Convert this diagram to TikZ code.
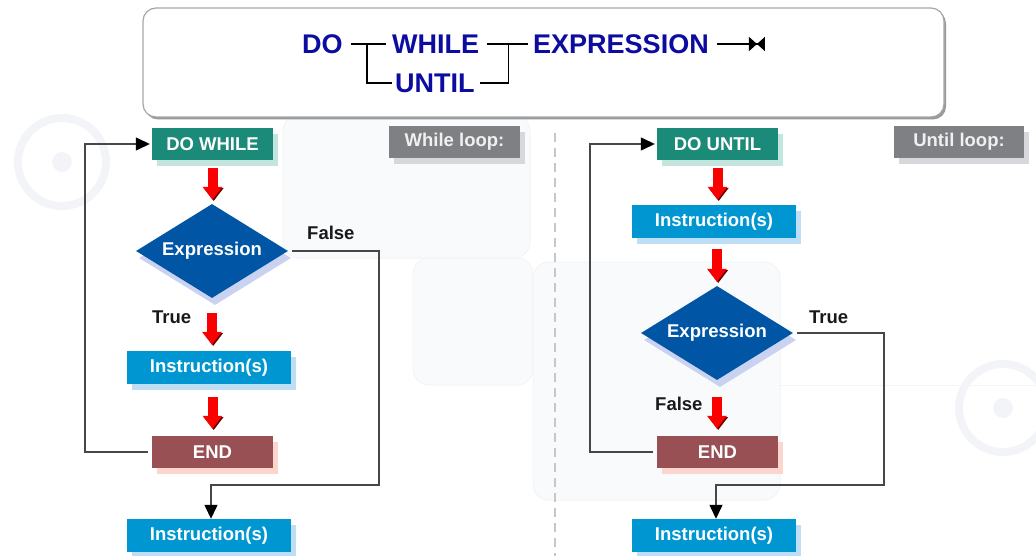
\documentclass[tikz,border=0pt]{standalone}
\usepackage{fontspec}
\setmainfont{Liberation Sans}
\usetikzlibrary{arrows.meta,shapes.geometric,shadows,calc}

\definecolor{kwblue}{RGB}{12,12,160}
\definecolor{startcol}{RGB}{27,138,120}
\definecolor{startsh}{RGB}{196,228,222}
\definecolor{instcol}{RGB}{0,150,210}
\definecolor{instsh}{RGB}{190,222,246}
\definecolor{endcol}{RGB}{153,80,84}
\definecolor{endsh}{RGB}{252,214,204}
\definecolor{diacol}{RGB}{0,85,164}
\definecolor{diash}{RGB}{201,210,240}
\definecolor{tagcol}{RGB}{126,128,131}
\definecolor{tagsh}{RGB}{214,216,219}
\definecolor{arrowred}{RGB}{250,0,0}
\definecolor{faint}{RGB}{249,250,252}
\definecolor{faintline}{RGB}{242,244,247}

\begin{document}
\begin{tikzpicture}[x=1pt,y=-1pt,
  boxtxt/.style={text=white, inner sep=0pt, font=\bfseries\fontsize{18.5}{20}\selectfont},
  shadowed/.style={drop shadow={shadow xshift=5pt,shadow yshift=-6pt,fill=#1,opacity=1}},
  startbox/.style={boxtxt, rectangle, fill=startcol, minimum width=121pt, minimum height=32pt, shadowed=startsh},
  instbox/.style={boxtxt, rectangle, fill=instcol, minimum width=164pt, minimum height=33pt, shadowed=instsh},
  endbox/.style={boxtxt, rectangle, fill=endcol, minimum width=121pt, minimum height=32pt, shadowed=endsh},
  tagbox/.style={boxtxt, rectangle, fill=tagcol, text=white!94!black, minimum width=131pt, minimum height=32pt, shadowed=tagsh},
  testbox/.style={boxtxt, diamond, fill=diacol, aspect=1.6, minimum width=152pt, minimum height=94pt,
    drop shadow={shadow xshift=3pt,shadow yshift=-7pt,fill=diash,opacity=1}},
  kw/.style={anchor=base west, inner sep=0pt, text=kwblue, font=\bfseries\fontsize{27}{30}\selectfont},
  syn/.style={draw=black, line width=1.6pt},
  lbl/.style={anchor=base west, inner sep=0pt, text=black!90, font=\bfseries\fontsize{18.5}{20}\selectfont},
  flow/.style={draw=black!72, line width=1.3pt, -{Triangle[width=13pt,length=14pt,color=black]}},
  redarrow/.style={draw=arrowred, line width=10pt, -{Triangle[width=19pt,length=13pt]},
    preaction={draw=red!40!black, transform canvas={xshift=1.2pt,yshift=-1.2pt}}}
]
\useasboundingbox (0,0) rectangle (1036,556);

% faint background pattern
\begin{scope}[draw=faintline, line width=1pt]
  \filldraw[fill=faint, rounded corners=16pt] (283,115) rectangle (530,258);
  \filldraw[fill=faint, rounded corners=16pt] (413,258) rectangle (533,385);
  \filldraw[fill=faint, rounded corners=16pt] (533,262) rectangle (780,500);
  \draw[line width=8pt] (62,162) circle (44);
  \fill[faintline] (62,162) circle (10);
  \draw[line width=8pt] (1003,408) circle (44);
  \fill[faintline] (1003,408) circle (10);
  \draw (780,385) -- (1036,385);
\end{scope}

% divider between the two loops
\draw[black!22, line width=1.2pt, dash pattern=on 9pt off 6pt] (555,133) -- (555,556);

% syntax banner
\node[draw=black!35, line width=1.2pt, fill=white, rounded corners=13pt,
      minimum width=801pt, minimum height=109pt,
      drop shadow={shadow xshift=2pt,shadow yshift=-2.5pt,fill=black!40,opacity=1}] (hdr) at (543.5,62.5) {};
\node[kw] (kdo) at (302,54) {DO};
\node[kw] (kwhile) at (392,54) {WHILE};
\node[kw] (kuntil) at (395,93) {UNTIL};
\node[kw] (kexpr) at (533,54) {EXPRESSION};
\draw[syn] ($(kdo.base east)+(8,-10)$) -- ($(kwhile.base west)+(-6,-10)$);
\draw[syn] ($(kdo.base east)+(24,-10)$) |- ($(kuntil.base west)+(-3,-10)$);
\draw[syn] ($(kwhile.base east)+(8,-10)$) -- ($(kexpr.base west)+(-5,-10)$);
\draw[syn] ($(kuntil.base east)+(5,-10)$) -| ($(kwhile.base east)+(29,-10)$);
\draw[syn, -{Triangle[width=14pt,length=8pt] Triangle[reversed,width=14pt,length=8pt]}]
  ($(kexpr.base east)+(8,-10)$) -- ++(48,0);

% ---------------- while loop ----------------
\node[tagbox] (wl) at (454.5,142) {While loop:};
\node[startbox] (dw) at (212.5,144) {DO WHILE};
\node[testbox] (le) at (212,251) {Expression};
\node[instbox] (li) at (209,367.5) {Instruction(s)};
\node[endbox] (lend) at (212.5,452) {END};
\node[instbox] (lout) at (209,535.5) {Instruction(s)};
\node[lbl] (lfalse) at (307,240) {False};
\node[lbl] (ltrue) at (152,323) {True};

\draw[redarrow, shorten <=8pt, shorten >=4pt] (dw.south) -- (dw.south |- le.north);
\draw[redarrow, shorten <=15pt, shorten >=6pt] (le.south) -- (le.south |- li.north);
\draw[redarrow, shorten <=13pt, shorten >=7pt] (lend.north |- li.south) -- (lend.north);

\coordinate (lfr) at (379,485);
\coordinate (lloop) at (85,144);
\draw[flow] ([xshift=4pt]le.east) -| (lfr) -| ([xshift=2pt]lout.north);
\draw[flow] ([xshift=-4pt]lend.west) -| (lloop) -- ([xshift=-2pt]dw.west);

% ---------------- until loop ----------------
\node[tagbox, minimum width=130pt] (ul) at (959,142) {Until loop:};
\node[startbox] (du) at (717.5,144) {DO UNTIL};
\node[instbox] (ri) at (714,221.5) {Instruction(s)};
\node[testbox] (re) at (717,333) {Expression};
\node[endbox] (rend) at (717.5,452) {END};
\node[instbox] (rout) at (714,535.5) {Instruction(s)};
\node[lbl] (rtrue) at (809,323) {True};
\node[lbl] (rfalse) at (655,410) {False};

\draw[redarrow, shorten <=8pt, shorten >=5pt] (du.south) -- (du.south |- ri.north);
\draw[redarrow, shorten <=11pt, shorten >=4pt] (re.north |- ri.south) -- (re.north);
\draw[redarrow, shorten <=17pt, shorten >=7pt] (re.south) -- (re.south |- rend.north);

\coordinate (rfr) at (884,485);
\coordinate (rloop) at (590,144);
\draw[flow] ([xshift=4pt]re.east) -| (rfr) -| ([xshift=2pt]rout.north);
\draw[flow] ([xshift=-4pt]rend.west) -| (rloop) -- ([xshift=-2pt]du.west);
\end{tikzpicture}
\end{document}
